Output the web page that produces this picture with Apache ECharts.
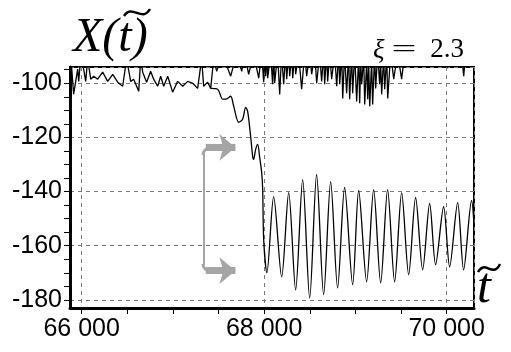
<!DOCTYPE html>
<html>
<head>
<meta charset="utf-8">
<script src="https://cdn.jsdelivr.net/npm/echarts@6/dist/echarts.min.js"></script>
<style>
html, body {margin:0; padding:0; background:#fff;}
#main {width:511px; height:352px;}
</style>
</head>
<body>
<div id="main"></div>
<script>
// upper branch (stays near -100, tops clipped by the frame)
var t1 = [65885, 65912, 65956, 65967, 65989, 66022, 66044, 66066, 66099, 66132, 66175, 66230, 66285, 66340, 66395, 66449, 66493, 66537, 66570, 66625,
    66647, 66669, 66712, 66756, 66789, 66833, 66866, 66899, 66943, 66997, 67052, 67107, 67162, 67217, 67271, 67315, 67337, 67381, 67414, 67447,
    67480, 67540, 67633, 67699, 67754, 67786, 67830, 67885, 67940, 67973, 67995, 68006, 68017, 68028, 68039, 68071, 68093, 68104, 68115, 68148,
    68170, 68192, 68214, 68236, 68247, 68269, 68280, 68302, 68313, 68334, 68345, 68378, 68411, 68444, 68466, 68499, 68521, 68554, 68576, 68608,
    68630, 68652, 68663, 68685, 68696, 68718, 68740, 68773, 68795, 68817, 68828, 68850, 68861, 68882, 68904, 68926, 68937, 68959, 68970, 68992,
    69014, 69036, 69047, 69058, 69069, 69091, 69102, 69124, 69135, 69146, 69157, 69178, 69189, 69211, 69222, 69244, 69266, 69277, 69288, 69310,
    69321, 69343, 69354, 69387, 69420, 69463, 69507, 69540, 69990, 70011, 70033, 70164, 70187, 70208, 70300];
var x1 = [-92, -104, -94.8, -99.3, -91, -94.8, -99.3, -91, -98.5, -97.4, -98.5, -95.9, -99.3, -96.7, -99.6, -101.1, -91, -99.3, -98.5, -103,
    -91, -95.9, -99.6, -95.6, -98.5, -101.1, -97.4, -101.1, -97.4, -103.3, -99.3, -101.1, -99.3, -100, -101.9, -91, -101.1, -99.6, -101.9, -91,
    -95.6, -89, -97.4, -89, -95.6, -89, -96.7, -89, -98.1, -89, -99.6, -89, -97.4, -89, -98.1, -89, -100.4, -89, -100, -89,
    -104.1, -89, -100.4, -89, -98.5, -89, -97.4, -89, -98.1, -89, -96.7, -89, -102.2, -89, -97.4, -89, -96.7, -89, -100, -89,
    -99.3, -89, -100.4, -89, -99.3, -89, -98.5, -89, -101.1, -89, -100.4, -89, -105.6, -89, -103.7, -89, -105.9, -89, -103.7, -89,
    -106.7, -90, -107.4, -92, -100.4, -90, -107.8, -92, -105.9, -93, -108.5, -92, -107.8, -89, -101.9, -89, -100.4, -92, -104.1, -90,
    -102.2, -90, -105.6, -89, -98.5, -89, -98.5, -89, -89, -94.4, -89, -89, -97.4, -89, -89];

// lower branch (drops near 68 000 and oscillates)
var t2 = [67414, 67490, 67545, 67578, 67633, 67666, 67721, 67764, 67797, 67819, 67852, 67874, 67885, 67907, 67929, 67951, 67973, 67984, 67995, 68030,
    68104, 68192, 68269, 68345, 68422, 68499, 68575, 68652, 68729, 68805, 68882, 68970, 69036, 69123, 69200, 69277, 69353, 69430, 69507, 69584,
    69660, 69737, 69814, 69879, 69967, 70033, 70121, 70186, 70274, 70300];
var x2 = [-101.9, -102.2, -105.9, -105.9, -104.8, -108.5, -114.4, -113.3, -108.9, -110.4, -119.6, -127, -128.1, -124.4, -122.6, -127.4, -133, -139.3, -157.8, -170,
    -141.9, -171.5, -140.4, -176.3, -135.6, -179.3, -133.7, -178.1, -136.3, -175.6, -138.5, -174.4, -139.6, -173.3, -139.3, -173.7, -139.3, -173.3, -140.4, -170.7,
    -142.2, -168.9, -144.4, -167, -145.6, -167.8, -144.1, -168.9, -143.3, -152];

var xLabels = [66000, 68000, 70000];
var yLabels = [-100, -120, -140, -160, -180];
var xTickVals = [66000, 66500, 67000, 67500, 68000, 68500, 69000, 69500, 70000];
var yTickVals = [-180, -175, -170, -165, -160, -155, -150, -145, -140, -135, -130, -125, -120, -115, -110, -105, -100, -95];

var upper = t1.map(function (t, i) { return [t, x1[i]]; });
var lower = t2.map(function (t, i) { return [t, x2[i]]; });

var xMin = 65872, xMax = 70300, yMin = -183, yMax = -94;
var grayArrow = '#a5a5a5';

var chart = echarts.init(document.getElementById('main'), null, {renderer: 'canvas'});

function fmtX(v) {
    if (xLabels.indexOf(v) < 0) return '';
    var s = String(v);
    return s.slice(0, s.length - 3) + ' ' + s.slice(-3);
}
function fmtY(v) {
    if (yLabels.indexOf(v) < 0) return '';
    return String(v);
}

var arrowLine = {width: 7, color: grayArrow, type: 'solid', cap: 'butt'};

var option = {
    animation: false,
    backgroundColor: '#fff',
    grid: {left: 70, right: 37, top: 67, bottom: 44, show: true, borderColor: '#000', borderWidth: 2, containLabel: false},
    xAxis: [
        {
            type: 'value', min: xMin, max: xMax, splitNumber: 2, position: 'bottom',
            axisLine: {show: true, onZero: false, lineStyle: {color: '#000', width: 3}},
            axisTick: {show: false},
            axisLabel: {color: '#000', fontSize: 25, fontFamily: 'Liberation Sans', margin: 9, formatter: fmtX,
                showMinLabel: false, showMaxLabel: false},
            splitLine: {show: true, lineStyle: {color: '#7a7a7a', type: [4, 4], width: 1}}
        },
        {
            type: 'value', min: xMin, max: xMax, splitNumber: 9, position: 'bottom',
            axisLine: {show: false, onZero: false},
            axisTick: {show: true, inside: false, length: 6, customValues: xTickVals, lineStyle: {color: '#000', width: 1}},
            axisLabel: {show: false},
            splitLine: {show: false}
        }
    ],
    yAxis: [
        {
            type: 'value', min: yMin, max: yMax, splitNumber: 5, position: 'left',
            axisLine: {show: true, onZero: false, lineStyle: {color: '#000', width: 3}},
            axisTick: {show: false},
            axisLabel: {color: '#000', fontSize: 25, fontFamily: 'Liberation Sans', margin: 8, formatter: fmtY,
                showMinLabel: false, showMaxLabel: false},
            splitLine: {show: true, lineStyle: {color: '#7a7a7a', type: [4, 4], width: 1}}
        },
        {
            type: 'value', min: yMin, max: yMax, splitNumber: 18, position: 'left',
            axisLine: {show: false, onZero: false},
            axisTick: {show: true, inside: false, length: 6, customValues: yTickVals, lineStyle: {color: '#000', width: 1}},
            axisLabel: {show: false},
            splitLine: {show: false}
        }
    ],
    series: [
        {
            type: 'line', data: upper, xAxisIndex: 0, yAxisIndex: 0,
            symbol: 'none', showSymbol: false, clip: true,
            lineStyle: {color: '#000', width: 1.3}
        },
        {
            type: 'line', data: lower, xAxisIndex: 0, yAxisIndex: 0,
            symbol: 'none', showSymbol: false, clip: true, smooth: 0.3,
            lineStyle: {color: '#000', width: 1.3},
            markLine: {
                silent: true,
                symbol: ['none', 'none'],
                label: {show: false},
                data: [
                    [{coord: [67337, -126], lineStyle: {width: 2, color: grayArrow, type: 'solid'}},
                     {coord: [67337, -167]}],
                    [{coord: [67360, -123.7], symbol: 'none', lineStyle: arrowLine},
                     {coord: [67685, -123.7], symbol: 'arrow', symbolSize: [20, 16]}],
                    [{coord: [67360, -169.2], symbol: 'none', lineStyle: arrowLine},
                     {coord: [67685, -169.2], symbol: 'arrow', symbolSize: [20, 16]}]
                ]
            }
        }
    ],
    graphic: [
        {type: 'text', x: 73, y: 38, style: {text: 'X(t)', font: 'italic 48px "Liberation Serif"', fill: '#000',
            textAlign: 'left', textVerticalAlign: 'middle', align: 'left', verticalAlign: 'middle'}},
        {type: 'bezierCurve', shape: {x1: 124, y1: 16, cpx1: 132, cpy1: 3, cpx2: 142, cpy2: 23, x2: 150, y2: 9},
            style: {stroke: '#000', lineWidth: 2.5, fill: null}},
        // rounded corners of the gray bracket
        {type: 'arc', shape: {cx: 210, cy: 155, r: 7, startAngle: Math.PI, endAngle: Math.PI * 1.5},
            style: {stroke: grayArrow, lineWidth: 3, fill: null}},
        {type: 'arc', shape: {cx: 210, cy: 264, r: 7, startAngle: Math.PI * 0.5, endAngle: Math.PI},
            style: {stroke: grayArrow, lineWidth: 3, fill: null}},
        {type: 'text', x: 373, y: 51, style: {text: 'ξ', font: 'italic 27px "Liberation Serif"', fill: '#000',
            textAlign: 'left', textVerticalAlign: 'middle', align: 'left', verticalAlign: 'middle'}},
        {type: 'text', x: 404, y: 50, scaleX: 1.7, style: {text: '=', font: '26px "Liberation Serif"', fill: '#000',
            textAlign: 'center', textVerticalAlign: 'middle', align: 'center', verticalAlign: 'middle'}},
        {type: 'text', x: 464, y: 50, style: {text: '2.3', font: '27px "Liberation Serif"', fill: '#000',
            textAlign: 'right', textVerticalAlign: 'middle', align: 'right', verticalAlign: 'middle'}},
        {type: 'text', x: 477, y: 289, style: {text: 't', font: 'italic 50px "Liberation Serif"', fill: '#000',
            textAlign: 'left', textVerticalAlign: 'middle', align: 'left', verticalAlign: 'middle'}},
        {type: 'bezierCurve', shape: {x1: 478, y1: 272, cpx1: 485, cpy1: 259, cpx2: 493, cpy2: 279, x2: 500, y2: 264},
            style: {stroke: '#000', lineWidth: 2.5, fill: null}}
    ]
};
chart.setOption(option);
</script>
</body>
</html>
